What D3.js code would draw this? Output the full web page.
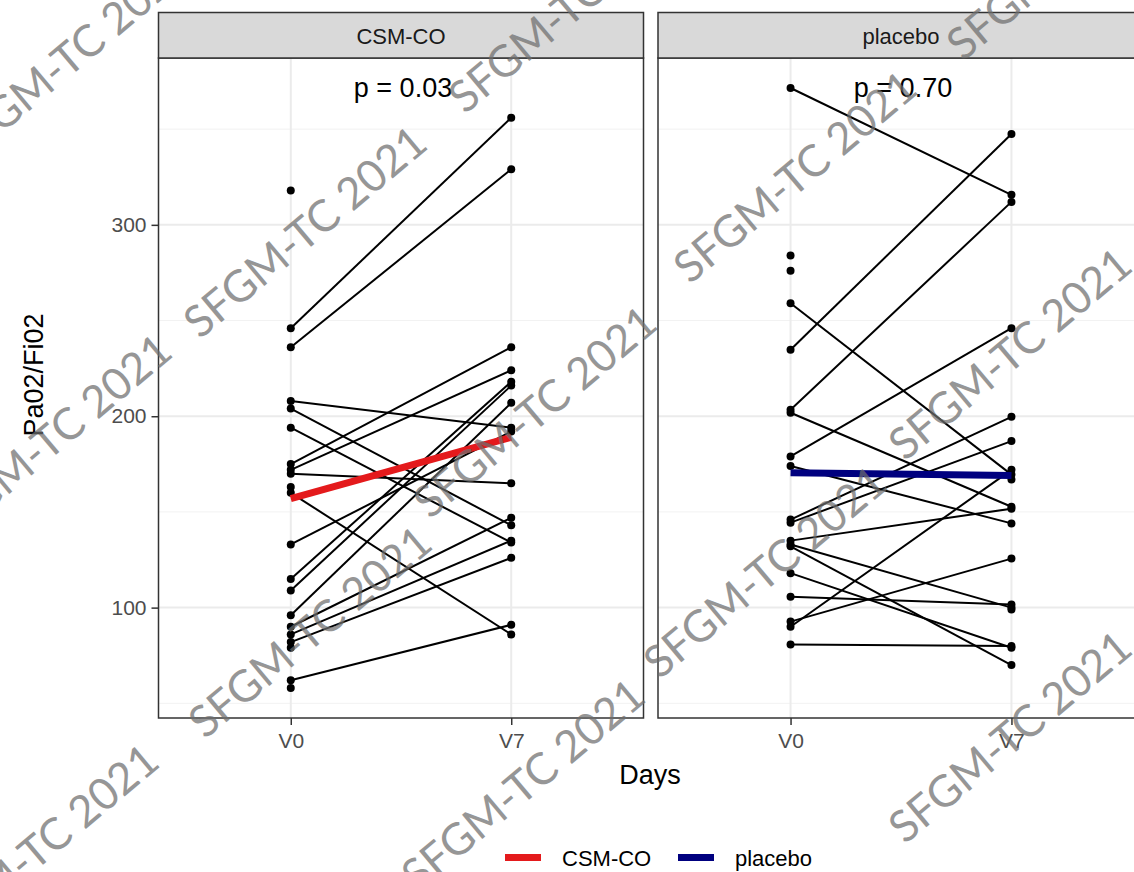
<!DOCTYPE html>
<html><head><meta charset="utf-8">
<script src="https://cdn.jsdelivr.net/npm/d3@7"></script>
<style>body{margin:0;background:#fff} svg{display:block}</style>
</head><body>
<svg id="chart" width="1134" height="872"></svg>
<script>
// ---------- data ----------
const groups = ["CSM-CO", "placebo"];
const days = ["V0", "V7"];
// paired values per patient (null = missing at that visit)
const csmV0 = [246, 236, 208, 204, 194, 175, 172, 170, 160, 133, 115, 109, 96, 90, 86, 82, 62, 318, 163, 79, 58];
const csmV7 = [356, 329, 194, 143, 134, 236, 224, 165, 86, 192, 218, 216, 207, 147, 135, 126, 91, null, null, null, null];
const plaV0 = [371.5, 234.7, 203.4, 201.8, 259, 179, 174, 146, 144.4, 135, 133, 132, 118, 105.7, 92.7, 90, 80.7, 284, 276, null, null];
const plaV7 = [315.7, 347.5, 312, 152.7, 169.5, 246, 144, 199.7, 187, 151.7, 100, 70, 79, 101.6, 125.6, 172, 80, null, null, 167, 99];
const meanV0 = [157, 170.5];
const meanV7 = [189, 169];
const pLabels = ["p = 0.03", "p = 0.70"];
const yTicks = [100, 200, 300];
const yMinorTicks = [50, 150, 250, 350];
const watermarkText = "SFGM-TC 2021";

// ---------- layout / style ----------
const FONT = "'Liberation Sans', Arial, Helvetica, sans-serif";
const WMFONT = "Lato, 'Open Sans', 'Liberation Sans Narrow', sans-serif";
const colors = ["#e41a1c", "#00007f"];
const L = { top: 58, bottom: 718, stripTop: 12.5, panels: [[158.5, 643.5], [658, 1144]] };
const wmStarts = [[-35,165],[200,340],[465,115],[-55,548],[430,520],[205,740],[690,285],[963,62],[905,462],[660,680],[905,845],[418,893],[-68,958]];

const svg = d3.select("#chart");
svg.append("rect").attr("width",1134).attr("height",872).attr("fill","#fff");

const series = [{ v0: csmV0, v7: csmV7 }, { v0: plaV0, v7: plaV7 }];
const allVals = [...csmV0, ...csmV7, ...plaV0, ...plaV7].filter(v => v != null);
const [mn, mx] = d3.extent(allVals);
const pad = (mx - mn) * 0.05;
const y = d3.scaleLinear().domain([mn - pad, mx + pad]).range([L.bottom, L.top]);

groups.forEach((g, i) => {
  const [x0, x1] = L.panels[i];
  const x = d3.scalePoint().domain(days).range([x0, x1]).padding(0.6);
  const gp = svg.append("g");
  const s = series[i];

  gp.append("rect").attr("x", x0).attr("y", L.top).attr("width", x1 - x0).attr("height", L.bottom - L.top).attr("fill", "#fff");
  gp.selectAll(".minor").data(yMinorTicks).join("line")
    .attr("x1", x0).attr("x2", x1).attr("y1", d => y(d)).attr("y2", d => y(d))
    .attr("stroke", "#f2f2f2").attr("stroke-width", 1);
  gp.selectAll(".major").data(yTicks).join("line")
    .attr("x1", x0).attr("x2", x1).attr("y1", d => y(d)).attr("y2", d => y(d))
    .attr("stroke", "#ebebeb").attr("stroke-width", 2);
  gp.selectAll(".vmajor").data(days).join("line")
    .attr("x1", d => x(d)).attr("x2", d => x(d)).attr("y1", L.top).attr("y2", L.bottom)
    .attr("stroke", "#ebebeb").attr("stroke-width", 2);

  const pairs = d3.range(s.v0.length).filter(k => s.v0[k] != null && s.v7[k] != null);
  gp.selectAll(".pair").data(pairs).join("line")
    .attr("x1", x("V0")).attr("x2", x("V7"))
    .attr("y1", k => y(s.v0[k])).attr("y2", k => y(s.v7[k]))
    .attr("stroke", "#000").attr("stroke-width", 2);

  const pts = [];
  s.v0.forEach(v => { if (v != null) pts.push(["V0", v]); });
  s.v7.forEach(v => { if (v != null) pts.push(["V7", v]); });
  gp.selectAll(".pt").data(pts).join("circle")
    .attr("cx", d => x(d[0])).attr("cy", d => y(d[1])).attr("r", 4).attr("fill", "#000");

  gp.append("line")
    .attr("x1", x("V0")).attr("x2", x("V7"))
    .attr("y1", y(meanV0[i])).attr("y2", y(meanV7[i]))
    .attr("stroke", colors[i]).attr("stroke-width", 7);

  gp.append("rect").attr("x", x0).attr("y", L.top).attr("width", x1 - x0).attr("height", L.bottom - L.top)
    .attr("fill", "none").attr("stroke", "#333").attr("stroke-width", 1.5);

  // strip
  gp.append("rect").attr("x", x0).attr("y", L.stripTop).attr("width", x1 - x0).attr("height", L.top - L.stripTop)
    .attr("fill", "#d9d9d9").attr("stroke", "#333").attr("stroke-width", 1.5);
  gp.append("text").attr("x", (x0 + x1) / 2).attr("y", 44).attr("text-anchor", "middle")
    .attr("font-family", FONT).attr("font-size", 22).attr("fill", "#1a1a1a").text(g);

  // p-value
  gp.append("text").attr("x", (x("V0") + x("V7")) / 2 + 2).attr("y", 97).attr("text-anchor", "middle")
    .attr("font-family", FONT).attr("font-size", 27).attr("fill", "#000").text(pLabels[i]);

  // x axis
  const xa = gp.append("g").attr("transform", `translate(0,${L.bottom})`)
    .call(d3.axisBottom(x).tickSize(7).tickPadding(8));
  xa.select(".domain").remove();
  xa.selectAll(".tick line").attr("stroke", "#333").attr("stroke-width", 1.5);
  xa.selectAll(".tick text").attr("font-family", FONT).attr("font-size", 21).attr("fill", "#4d4d4d");

  if (i === 0) {
    const ya = gp.append("g").attr("transform", `translate(${x0},0)`)
      .call(d3.axisLeft(y).tickValues(yTicks).tickSize(7).tickPadding(5));
    ya.select(".domain").remove();
    ya.selectAll(".tick line").attr("stroke", "#333").attr("stroke-width", 1.5);
    ya.selectAll(".tick text").attr("font-family", FONT).attr("font-size", 21).attr("fill", "#4d4d4d");
  }
});

// axis titles
svg.append("text").attr("transform", "translate(43,375) rotate(-90)").attr("text-anchor", "middle")
  .attr("font-family", FONT).attr("font-size", 27).attr("fill", "#000").text("Pa02/Fi02");
svg.append("text").attr("x", 650).attr("y", 784).attr("text-anchor", "middle")
  .attr("font-family", FONT).attr("font-size", 27).attr("fill", "#000").text("Days");

// legend
const legX = [505, 678];
groups.forEach((g, i) => {
  svg.append("line").attr("x1", legX[i]).attr("x2", legX[i] + 36).attr("y1", 857.5).attr("y2", 857.5)
    .attr("stroke", colors[i]).attr("stroke-width", 7);
  svg.append("text").attr("x", legX[i] + 57).attr("y", 866).attr("font-family", FONT).attr("font-size", 22)
    .attr("fill", "#000").text(g);
});

// watermarks
svg.append("g").selectAll("text").data(wmStarts).join("text")
  .attr("transform", d => `translate(${d[0]},${d[1]}) rotate(-40)`)
  .attr("font-family", WMFONT).attr("font-weight", 400).attr("font-size", 44).attr("fill", "#6e6e6e").attr("opacity", 0.72)
  .attr("textLength", 300).attr("lengthAdjust", "spacingAndGlyphs")
  .text(watermarkText);
</script>
</body></html>
